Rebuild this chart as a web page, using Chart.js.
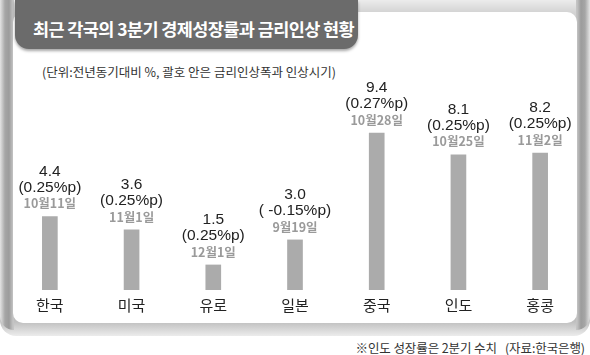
<!DOCTYPE html>
<html>
<head>
<meta charset="utf-8">
<script src="https://cdn.jsdelivr.net/npm/chart.js@4.4.0/dist/chart.umd.min.js"></script>
<style>
  html, body { margin: 0; padding: 0; background: #fff; }
  #wrap { position: relative; width: 590px; height: 355px; overflow: hidden; font-family: "Noto Sans CJK KR", "Noto Sans", sans-serif; }
  #frame { position: absolute; left: 0; top: 0; width: 590px; height: 336px; border-radius: 0 0 16px 16px;
    background: linear-gradient(to bottom, #ececec 0px, #d4d4d4 12px, #b4b4b4 60px, #b0b0b0 300px, #c0c0c0 322px, #ececec 336px); }
  #frameL { position: absolute; left: 0; top: 0; width: 14px; height: 330px;
    background: linear-gradient(to right, #e4e4e4 0px, #a6a6a6 5px, #9c9c9c 9px, #c4c4c4 13px); border-radius: 0 0 0 14px; }
  #frameR { position: absolute; right: 0; top: 0; width: 14px; height: 330px;
    background: linear-gradient(to left, #e4e4e4 0px, #a6a6a6 5px, #9c9c9c 9px, #c4c4c4 13px); border-radius: 0 0 14px 0; }
  #panel { position: absolute; left: 13px; top: 12px; width: 564px; height: 311px; background: #fff; border-radius: 10px; }
  #tab { position: absolute; left: 15px; top: 0px; width: 343px; height: 49px; background: #6b6b6b;
    border-radius: 0 0 14px 14px; box-shadow: 0 2px 3px rgba(0,0,0,0.35); }
  #title { position: absolute; left: 33px; top: 16px; color: #fff; font-weight: bold; font-size: 17.5px; letter-spacing: -0.6px; white-space: nowrap; }
  #sub { position: absolute; left: 42px; top: 62px; color: #333; font-size: 12.5px; white-space: nowrap; }
  #foot { position: absolute; right: 5px; top: 338px; color: #333; font-size: 12.5px; white-space: nowrap; letter-spacing: -0.1px; }
  #c { position: absolute; left: 0; top: 0; }
</style>
</head>
<body>
<div id="wrap">
  <div id="frame"></div>
  <div id="frameL"></div>
  <div id="frameR"></div>
  <div id="panel"></div>
  <div id="tab"></div>
  <div id="title">최근 각국의 3분기 경제성장률과 금리인상 현황</div>
  <div id="sub">(단위:전년동기대비 %, 괄호 안은 금리인상폭과 인상시기)</div>
  <div id="foot">※인도 성장률은 2분기 수치 &nbsp;&nbsp;(자료:한국은행)</div>
  <canvas id="c" width="590" height="355"></canvas>
</div>
<script>
const categories = ["한국", "미국", "유로", "일본", "중국", "인도", "홍콩"];
const growth = [4.4, 3.6, 1.5, 3.0, 9.4, 8.1, 8.2];
const rateHike = ["(0.25%p)", "(0.25%p)", "(0.25%p)", "( -0.15%p)", "(0.27%p)", "(0.25%p)", "(0.25%p)"];
const hikeDate = ["10월11일", "11월1일", "12월1일", "9월19일", "10월28일", "10월25일", "11월2일"];

const labelPlugin = {
  id: "barLabels",
  afterDatasetsDraw(chart) {
    const ctx = chart.ctx;
    const meta = chart.getDatasetMeta(0);
    ctx.save();
    ctx.textAlign = "center";
    ctx.textBaseline = "middle";
    meta.data.forEach((bar, i) => {
      const x = bar.x, y = bar.y;
      ctx.fillStyle = "#222";
      ctx.font = "15.5px 'Liberation Sans', Arial, sans-serif";
      ctx.fillText(growth[i].toFixed(1), x, y - 45);
      ctx.fillText(rateHike[i], x, y - 29);
      ctx.fillStyle = "#9a9a9a";
      ctx.font = "bold 12.5px 'Noto Sans CJK KR', sans-serif";
      ctx.fillText(hikeDate[i], x, y - 13);
    });
    ctx.restore();
  }
};

new Chart(document.getElementById("c"), {
  type: "bar",
  data: {
    labels: categories,
    datasets: [{
      data: growth,
      backgroundColor: "#ababab",
      borderWidth: 0,
      barThickness: 15
    }]
  },
  options: {
    responsive: false,
    animation: false,
    devicePixelRatio: 1,
    layout: { padding: { left: 9, right: 9, top: 123, bottom: 0 } },
    plugins: { legend: { display: false }, tooltip: { enabled: false } },
    scales: {
      x: {
        grid: { display: false, drawTicks: false },
        border: { display: false },
        ticks: { color: "#222", padding: 6, font: { family: "'Noto Sans CJK KR'", size: 15 } },
        afterFit(axis) { axis.height = 65; }
      },
      y: { display: false, min: 0, max: 10 }
    }
  },
  plugins: [labelPlugin]
});
</script>
</body>
</html>
